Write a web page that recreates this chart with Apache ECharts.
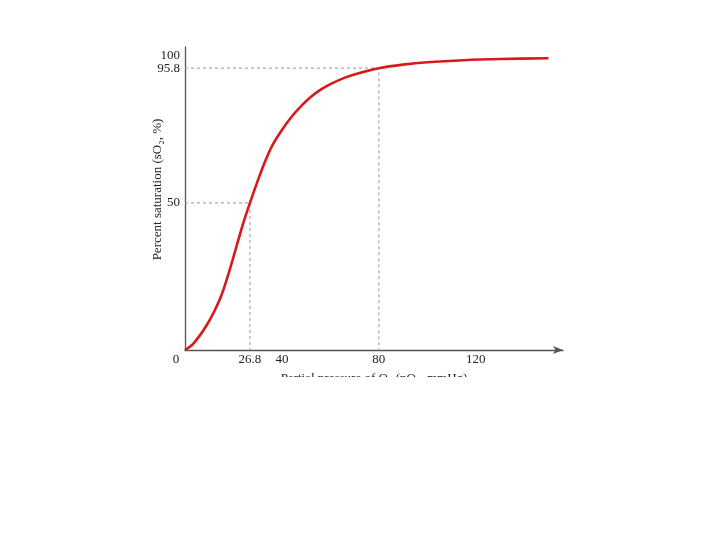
<!DOCTYPE html>
<html>
<head>
<meta charset="utf-8">
<script src="https://cdn.jsdelivr.net/npm/echarts@6/dist/echarts.min.js"></script>
<style>html,body{margin:0;padding:0;background:#fff;}#c{width:720px;height:540px;}</style>
</head>
<body>
<div id="c"></div>
<script>
// Curve
var pressure = [0, 3, 6, 9, 12, 15, 18, 21, 24, 26.8, 30, 33, 36, 40, 44, 48, 52, 56, 60, 66, 72, 80, 90, 100, 115, 130, 150];
var saturation = [0, 1.8, 4.8, 8.5, 13, 18.5, 26, 34.5, 43, 50, 57.5, 64, 69.5, 74.8, 79.3, 83, 86.1, 88.5, 90.4, 92.6, 94.2, 95.8, 97, 97.8, 98.5, 98.9, 99.2];
// Guide points
var p50Guide = [[0, 50], [26.8, 50], [26.8, 0]];
var p80Guide = [[0, 95.8], [80, 95.8], [80, 0]];
// Tick labels
var xTicks = [0, 26.8, 40, 80, 120];
var yTicks = [50, 95.8];
var yTopTick = [100];
var xName = 'Partial pressure of O\u2082 (pO\u2082, mmHg)';
var yName = 'Percent saturation (sO\u2082, %)';

var curve = pressure.map(function (p, i) { return [p, saturation[i]]; });
var font = 'Liberation Serif';
var chart = echarts.init(document.getElementById('c'));
chart.setOption({
  animation: false,
  backgroundColor: '#fff',
  grid: { left: 185, top: 47, width: 378, height: 303, containLabel: false },
  xAxis: {
    type: 'value', min: 0, max: 156,
    name: xName, nameLocation: 'middle', nameGap: 22, nameMoveOverlap: false,
    nameTextStyle: { fontFamily: font, fontSize: 13, color: '#222' },
    axisLine: { show: true, symbol: ['none', 'arrow'], symbolSize: [6, 10], lineStyle: { color: '#555', width: 1.3 } },
    axisTick: { show: false },
    splitLine: { show: false },
    axisLabel: {
      customValues: xTicks, margin: 3, hideOverlap: false, fontFamily: font, fontSize: 13, color: '#222',
      formatter: function (v) { return v === 0 ? '{o|0}' : String(v); },
      rich: { o: { fontFamily: font, fontSize: 13, color: '#222', padding: [0, 18, 0, 0] } }
    }
  },
  yAxis: [{
    type: 'value', min: 0, max: 103,
    name: yName, nameLocation: 'middle', nameGap: 21, nameRotate: 90, nameMoveOverlap: false,
    nameTextStyle: { fontFamily: font, fontSize: 13, color: '#222', padding: [0, 0, 0, 18] },
    axisLine: { show: true, lineStyle: { color: '#555', width: 1.3 } },
    axisTick: { show: false },
    splitLine: { show: false },
    axisLabel: { customValues: yTicks, margin: 5, hideOverlap: false, fontFamily: font, fontSize: 13, color: '#222' }
  }, {
    type: 'value', min: 0, max: 103, position: 'left',
    axisLine: { show: false }, axisTick: { show: false }, splitLine: { show: false },
    axisLabel: { customValues: yTopTick, margin: 5, hideOverlap: false, fontFamily: font, fontSize: 13, color: '#222' }
  }],
  graphic: [{
    type: 'rect', left: 0, top: 377, z: 100,
    shape: { width: 720, height: 163 },
    style: { fill: '#fff' }
  }],
  series: [
    { type: 'line', data: p50Guide, symbol: 'none', silent: true,
      lineStyle: { color: '#aaa', width: 1.2, type: [3, 3] } },
    { type: 'line', data: p80Guide, symbol: 'none', silent: true,
      lineStyle: { color: '#aaa', width: 1.2, type: [3, 3] } },
    { type: 'line', data: curve, symbol: 'none', smooth: 0.3, z: 5,
      lineStyle: { color: '#d7191c', width: 2.6 } }
  ]
});
</script>
</body>
</html>
